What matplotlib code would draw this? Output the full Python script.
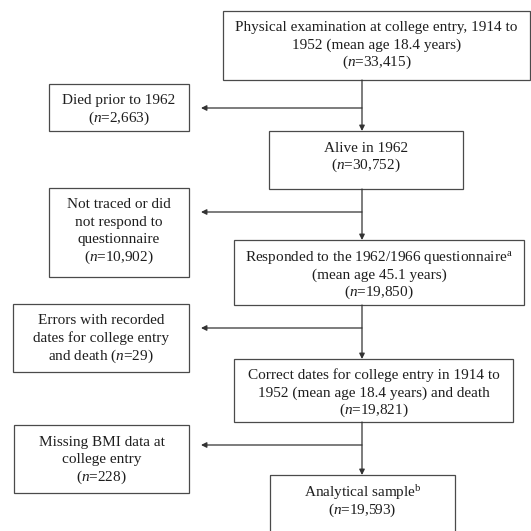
import matplotlib
matplotlib.use("Agg")
import matplotlib.pyplot as plt
from matplotlib.patches import Rectangle

plt.rcParams['font.family'] = 'Liberation Serif'
plt.rcParams['mathtext.fontset'] = 'custom'
plt.rcParams['mathtext.rm'] = 'Liberation Serif'
plt.rcParams['mathtext.it'] = 'Liberation Serif:italic'

# flow steps (main column) and exclusions
main_labels = [
    "Physical examination at college entry, 1914 to\n1952 (mean age 18.4 years)\n",
    "Alive in 1962\n",
    "Responded to the 1962/1966 questionnaire$^{\\mathrm{a}}$\n(mean age 45.1 years)\n",
    "Correct dates for college entry in 1914 to\n1952 (mean age 18.4 years) and death\n",
    "Analytical sample$^{\\mathrm{b}}$\n",
]
main_n = [33415, 30752, 19850, 19821, 19593]

excl_labels = [
    "Died prior to 1962\n",
    "Not traced or did\nnot respond to\nquestionnaire\n",
    "Errors with recorded\ndates for college entry\nand death ",
    "Missing BMI data at\ncollege entry\n",
]
excl_n = [2663, 10902, 29, 228]

# layout in pixels: (left, top, right, bottom)
main_boxes = [(223, 11, 530, 80), (269, 131, 463, 189), (234, 240, 524, 305),
              (234, 359, 513, 422), (270, 475, 455, 545)]
main_text_y = [44, 156, 274, 392, 501]
excl_boxes = [(49, 84, 189, 131), (49, 188, 189, 277), (13, 304, 189, 372),
              (14, 425, 189, 493)]
excl_text_y = [108.5, 230, 337.5, 459]
trunk_x = 362
branch_y = [108, 212, 328, 445]
arrow_tip_x = 201

edge = '#4a4a4a'
txt = '#1e1e1e'
fs = 11.0
pitch = 17.5


def draw_box(ax, box, label, yc):
    l, t, r, b = box
    ax.add_patch(Rectangle((l, t), r - l, b - t, fill=False, ec=edge, lw=0.9))
    lines = label.split('\n')
    k = len(lines)
    for i, line in enumerate(lines):
        y = yc - (k - 1) / 2 * pitch + i * pitch + 4.5
        ax.text((l + r) / 2, y, line, ha='center', va='baseline',
                fontsize=fs, color=txt)


fig = plt.figure(figsize=(5.31, 5.31), dpi=100)
ax = fig.add_axes([0, 0, 1, 1])
ax.set_xlim(0, 531)
ax.set_ylim(531, 0)
ax.axis('off')

for box, lab, n, yc in zip(main_boxes, main_labels, main_n, main_text_y):
    draw_box(ax, box, lab + f"($n$={n:,})", yc)

for box, lab, n, yc in zip(excl_boxes, excl_labels, excl_n, excl_text_y):
    draw_box(ax, box, lab + f"($n$={n:,})", yc)

arrow = dict(arrowstyle='-|>', color='#333333', lw=0.9, mutation_scale=8,
             shrinkA=0, shrinkB=0)

# vertical connectors between main boxes
for upper, lower in zip(main_boxes[:-1], main_boxes[1:]):
    ax.annotate('', xy=(trunk_x, lower[1]), xytext=(trunk_x, upper[3]),
                arrowprops=arrow)

# side branches to exclusion boxes
for y in branch_y:
    ax.annotate('', xy=(arrow_tip_x, y), xytext=(trunk_x, y), arrowprops=arrow)

fig.savefig('out.png', dpi=100, facecolor='white')
